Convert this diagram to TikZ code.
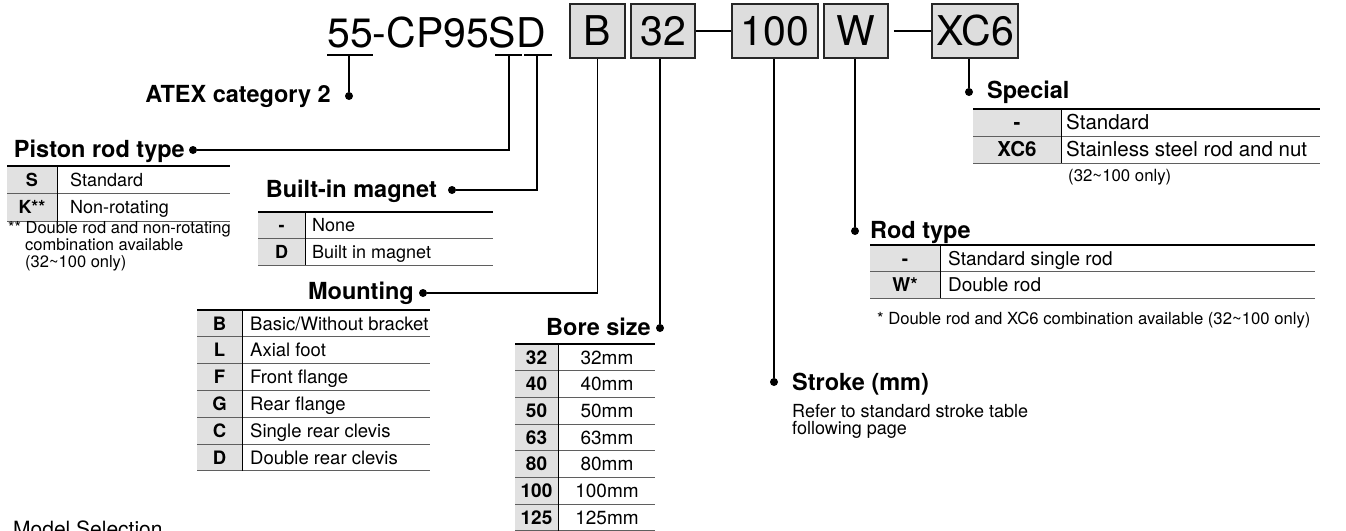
\documentclass[tikz,border=0pt]{standalone}
\usepackage{fontspec}
\setmainfont{TeX Gyre Heros}
\usetikzlibrary{positioning}
\definecolor{boxgrey}{RGB}{221,221,221}
\definecolor{hdrgrey}{RGB}{225,225,225}
\definecolor{rulegrey}{RGB}{95,95,95}
\newcommand{\fsz}[1]{\fontsize{#1}{#1}\selectfont}

\begin{document}
\begin{tikzpicture}[
  x=1pt, y=-1pt,
  codebox/.style={draw=black!85, line width=1.6pt, fill=boxgrey, minimum height=54pt, inner sep=0pt, font=\fsz{41}},
  title/.style={font=\fsz{23.5}\bfseries, inner sep=0pt},
  dot/.style={circle, fill=black, inner sep=0pt, minimum size=8pt},
  link/.style={line width=1.8pt},
  cell/.style={inner sep=0pt, anchor=base},
  dcell/.style={inner sep=0pt, anchor=base west},
  toprule/.style={line width=2pt},
  rowrule/.style={line width=0.9pt, rulegrey},
  colrule/.style={line width=0.9pt},
  note/.style={font=\fsz{16.5}, inner sep=0pt, anchor=base west, align=left}
]
\useasboundingbox (0,0) rectangle (1346,530);

% Model code
\node[anchor=base west, inner sep=0pt, font=\fsz{41}] (code) at (327,47) {55-CP95SD};
\draw[link] (327,55) -- (373,55);
\draw[link] (495,55) -- (522,55);
\draw[link] (524,55) -- (552,55);
\coordinate (u55) at (349,55);
\coordinate (uS) at (509,55);
\coordinate (uD) at (537,55);

\node[codebox, minimum width=55pt] (boxB) at (597.5,31) {B};
\node[codebox, minimum width=64pt] (box32) at (663,31) {32};
\node[codebox, minimum width=86pt] (box100) at (775,31) {100};
\node[codebox, minimum width=64pt] (boxW) at (856,31) {W};
\node[codebox, minimum width=86pt] (boxXC6) at (975,31) {XC6};
\draw[link] (box32) -- (box100);
\draw[link] ([xshift=5pt]boxW.east) -- (boxXC6);

% Titles and dots
\node[dot] (atexdot) at (349,96) {};
\node[title, anchor=base east] (atex) at (331,102) {ATEX category 2};
\node[dot] (pistondot) at (193,150) {};
\node[title, anchor=base east] (piston) at (185,157) {Piston rod type};
\node[dot] (magdot) at (452,190) {};
\node[title, anchor=base east] (magnet) at (437,197) {Built-in magnet};
\node[dot] (mountdot) at (423,293) {};
\node[title, anchor=base east] (mount) at (414,299) {Mounting};
\node[dot] (boredot) at (660,328) {};
\node[title, anchor=base east] (bore) at (651,335) {Bore size};
\node[dot] (strokedot) at (774,382) {};
\node[title, anchor=base west] (stroke) at (792,390) {Stroke (mm)};
\node[dot] (roddot) at (855,231) {};
\node[title, anchor=base west] (rod) at (870,238) {Rod type};
\node[dot] (specdot) at (969,92) {};
\node[title, anchor=base west] (special) at (987,98) {Special};

% Leaders
\draw[link] (u55) -- (atexdot);
\draw[link] (uS) |- (pistondot);
\draw[link] (uD) |- (magdot);
\draw[link] (boxB.south) |- (mountdot);
\draw[link] (box32.south -| boredot) -- (boredot);
\draw[link] (box100.south -| strokedot) -- (strokedot);
\draw[link] (boxW.south -| roddot) -- (roddot);
\draw[link] (boxXC6.south -| specdot) -- (specdot);

% Piston rod type table
\begin{scope}[font=\fsz{18}]
\fill[hdrgrey] (7,166) rectangle (57,221);
\foreach \c/\d [count=\k] in {S/Standard, K**/Non-rotating} {
  \node[cell] (pr\k) at (32,{166+(\k-0.5)*27.5+6.5}) {\textbf{\c}};
  \node[dcell] (prd\k) at (70,{166+(\k-0.5)*27.5+6.5}) {\d};
  \draw[rowrule] (7,{166+\k*27.5}) -- (230,{166+\k*27.5});
}
\draw[colrule] (57,166) -- (57,221);
\draw[toprule] (7,166) -- (230,166);
\end{scope}
\node[note, font=\fontsize{16.5}{17}\selectfont] (prnote) at (8,267) {** Double rod and non-rotating\\\hspace*{17pt}combination available\\\hspace*{17pt}(32\textasciitilde100 only)};

% Built-in magnet table
\begin{scope}[font=\fsz{18}]
\fill[hdrgrey] (258,212) rectangle (305,265);
\foreach \c/\d [count=\k] in {-/None, D/Built in magnet} {
  \node[cell] (bm\k) at (281.5,{212+(\k-0.5)*26.5+6.5}) {\textbf{\c}};
  \node[dcell] (bmd\k) at (312,{212+(\k-0.5)*26.5+6.5}) {\d};
  \draw[rowrule] (258,{212+\k*26.5}) -- (493,{212+\k*26.5});
}
\draw[colrule] (305,212) -- (305,265);
\draw[toprule] (258,212) -- (493,212);
\end{scope}

% Mounting table
\begin{scope}[font=\fsz{18.5}]
\fill[hdrgrey] (197,310) rectangle (242,470.8);
\foreach \c/\d [count=\k] in {B/Basic\slash Without bracket, L/Axial foot, F/Front flange, G/Rear flange, C/Single rear clevis, D/Double rear clevis} {
  \node[cell] (mt\k) at (219.5,{310+(\k-0.5)*26.8+6.7}) {\textbf{\c}};
  \node[dcell] (mtd\k) at (250,{310+(\k-0.5)*26.8+6.7}) {\d};
  \draw[rowrule] (197,{310+\k*26.8}) -- (430,{310+\k*26.8});
}
\draw[colrule] (242,310) -- (242,470.8);
\draw[toprule] (197,310) -- (430,310);
\end{scope}

% Bore size table
\begin{scope}[font=\fsz{19}]
\fill[hdrgrey] (515,344) rectangle (558,531);
\foreach \c [count=\k] in {32,40,50,63,80,100,125} {
  \node[cell] (bs\k) at (536.5,{344+(\k-0.5)*26.7+6.8}) {\textbf{\c}};
  \node[cell] (bsd\k) at (607,{344+(\k-0.5)*26.7+6.8}) {\c mm};
  \draw[rowrule] (515,{344+\k*26.7}) -- (655,{344+\k*26.7});
}
\draw[colrule] (558,344) -- (558,531);
\draw[toprule] (515,344) -- (655,344);
\end{scope}

% Stroke note
\node[note, font=\fontsize{18}{17.5}\selectfont] (strokenote) at (792,434.5) {Refer to standard stroke table\\following page};

% Rod type table
\begin{scope}[font=\fsz{19}]
\fill[hdrgrey] (870,245) rectangle (940,298);
\foreach \c/\d [count=\k] in {-/Standard single rod, W*/Double rod} {
  \node[cell] (rt\k) at (905,{245+(\k-0.5)*26.5+6.8}) {\textbf{\c}};
  \node[dcell] (rtd\k) at (948,{245+(\k-0.5)*26.5+6.8}) {\d};
  \draw[rowrule] (870,{245+\k*26.5}) -- (1315,{245+\k*26.5});
}
\draw[colrule] (940,245) -- (940,298);
\draw[toprule] (870,245) -- (1315,245);
\end{scope}
\node[note, font=\fsz{16.7}] (rtnote) at (877,324) {* Double rod and XC6 combination available (32\textasciitilde100 only)};

% Special table
\begin{scope}[font=\fsz{20.5}]
\fill[hdrgrey] (973,109) rectangle (1061,163);
\foreach \c/\d [count=\k] in {-/Standard, XC6/Stainless steel rod and nut} {
  \node[cell] (sp\k) at (1017,{109+(\k-0.5)*27+7.4}) {\textbf{\c}};
  \node[dcell] (spd\k) at (1066,{109+(\k-0.5)*27+7.4}) {\d};
  \draw[rowrule] (973,{109+\k*27}) -- (1320,{109+\k*27});
}
\draw[colrule] (1061,109) -- (1061,163);
\draw[toprule] (973,109) -- (1320,109);
\end{scope}
\node[note, font=\fsz{16.8}] (spnote) at (1068,181) {(32\textasciitilde100 only)};

% Caption
\node[anchor=base west, inner sep=0pt, font=\fsz{21}] (caption) at (13,536) {Model Selection};
\end{tikzpicture}
\end{document}
